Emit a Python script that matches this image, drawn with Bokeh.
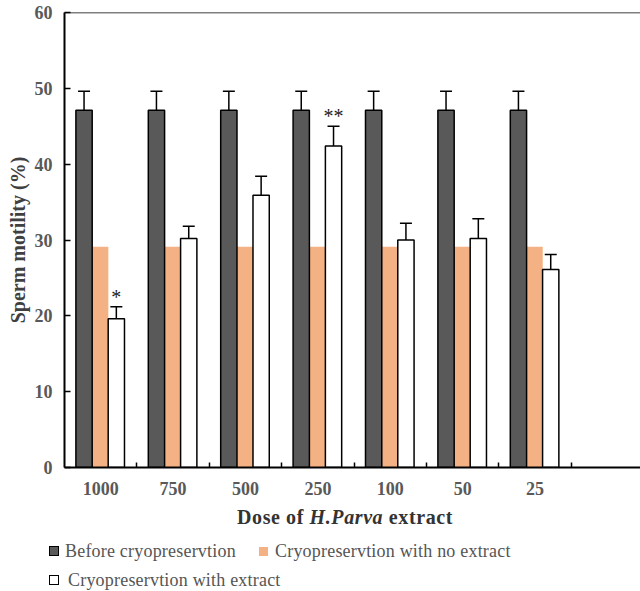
import numpy as np
from bokeh.plotting import figure
from bokeh.models import Range1d, FixedTicker, Whisker, TeeHead, ColumnDataSource, Span, Div
from bokeh.layouts import column
from bokeh.core.properties import value
from bokeh.embed import file_html
from bokeh.resources import INLINE

# ---- data ----
doses = ["1000", "750", "500", "250", "100", "50", "25"]
before = [47.1, 47.1, 47.1, 47.1, 47.1, 47.1, 47.1]
before_err = [2.5, 2.5, 2.5, 2.5, 2.5, 2.5, 2.5]
no_extract = [29.1, 29.1, 29.1, 29.1, 29.1, 29.1, 29.1]
with_extract = [19.6, 30.2, 35.9, 42.4, 30.0, 30.2, 26.1]
with_err = [1.6, 1.6, 2.5, 2.6, 2.2, 2.6, 2.0]
sig = ["*", "", "", "**", "", "", ""]
y_ticks = [0, 10, 20, 30, 40, 50, 60]
legend_labels = ["Before cryopreservtion", "Cryopreservtion with no extract",
                 "Cryopreservtion with extract"]

DARK = "#595959"
ORANGE = "#F4B183"
FONT = "Liberation Serif"

W = 640
XMAX = 7.956
YMAX = 60

slot = np.arange(len(doses))
bw = 0.225
src = ColumnDataSource(dict(
    xd=slot + 0.27, xo=slot + 0.493, xw=slot + 0.716,
    before=before, before_hi=np.array(before) + np.array(before_err),
    no_extract=no_extract,
    with_extract=with_extract,
    with_hi=np.array(with_extract) + np.array(with_err),
    sig=sig,
))

p = figure(width=W, height=507, x_range=Range1d(0, XMAX), y_range=Range1d(0, YMAX),
           output_backend="svg", toolbar_location=None,
           min_border_top=12, min_border_left=64, min_border_right=0, min_border_bottom=40)
p.xgrid.visible = False
p.ygrid.visible = False
p.outline_line_color = None

p.vbar(x="xo", top="no_extract", width=bw, source=src, fill_color=ORANGE, line_color=None)
p.vbar(x="xd", top="before", width=bw, source=src, fill_color=DARK, line_color="black", line_width=1.5)
p.vbar(x="xw", top="with_extract", width=bw, source=src, fill_color="white", line_color="black", line_width=1.5)

for base, lo, hi in (("xd", "before", "before_hi"), ("xw", "with_extract", "with_hi")):
    w = Whisker(source=src, base=base, lower=lo, upper=hi, dimension="height",
                line_color="black", line_width=1.5,
                upper_head=TeeHead(size=12, line_width=1.5, line_color="black"), lower_head=None)
    p.add_layout(w)

p.text(x="xw", y="with_hi", text="sig", source=src, text_align="center", text_baseline="alphabetic",
       y_offset=-10, text_font=value(FONT), text_font_size="20px", text_color="#222222")

p.add_layout(Span(location=YMAX, dimension="width", line_color="black", line_width=1.5))

# y axis
p.yaxis.ticker = FixedTicker(ticks=y_ticks)
p.yaxis.axis_label = "Sperm motility (%)"
p.yaxis.axis_label_text_font = FONT
p.yaxis.axis_label_text_font_style = "bold"
p.yaxis.axis_label_text_font_size = "20px"
p.yaxis.axis_label_text_color = "#404040"
p.yaxis.axis_label_standoff = 3
p.yaxis.major_label_text_font = FONT
p.yaxis.major_label_text_font_style = "bold"
p.yaxis.major_label_text_font_size = "18px"
p.yaxis.major_label_text_color = "#595959"
p.yaxis.major_label_standoff = 12
p.yaxis.major_tick_in = 6
p.yaxis.major_tick_out = 0
p.yaxis.minor_tick_line_color = None

# x axis
p.xaxis.ticker = FixedTicker(ticks=list(slot + 0.5), minor_ticks=list(range(1, len(doses) + 1)))
p.xaxis.major_label_overrides = {float(s + 0.5): d for s, d in zip(slot, doses)}
p.xaxis.major_label_text_font = FONT
p.xaxis.major_label_text_font_style = "bold"
p.xaxis.major_label_text_font_size = "18px"
p.xaxis.major_label_text_color = "#595959"
p.xaxis.major_label_standoff = 14
p.xaxis.major_tick_in = 0
p.xaxis.major_tick_out = 0
p.xaxis.minor_tick_in = 5
p.xaxis.minor_tick_out = 0
p.xaxis.minor_tick_line_width = 1.5
for ax in (p.xaxis, p.yaxis):
    ax.axis_line_width = 2
    ax.axis_line_color = "black"
    ax.major_tick_line_width = 1.5

# ---- x label (mixed styles) + legend as HTML below the plot ----
def box(left, top, size, fill, border):
    b = f"border:1.5px solid {border};" if border else ""
    return (f'<div style="position:absolute;left:{left}px;top:{top}px;width:{size}px;height:{size}px;'
            f'box-sizing:border-box;background:{fill};{b}"></div>')


def txt(left, top, size, color, inner, extra=""):
    return (f'<div style="position:absolute;left:{left}px;top:{top}px;white-space:nowrap;'
            f'font-family:\'{FONT}\';font-size:{size}px;line-height:{size}px;color:{color};{extra}">{inner}</div>')


html = (
    f'<div style="position:relative;width:{W}px;height:84px;margin:0;padding:0;">'
    + txt(237, 0, 20, "#333333", "Dose of <i>H.Parva</i> extract", "font-weight:bold;letter-spacing:0.6px;")
    + box(48.5, 39, 10, DARK, "black")
    + txt(65, 34.5, 18, "#555555", legend_labels[0], "letter-spacing:0.2px;")
    + box(258.5, 39.5, 9, ORANGE, None)
    + txt(275, 34.5, 18, "#555555", legend_labels[1], "letter-spacing:0.2px;")
    + box(48.5, 68, 10, "white", "black")
    + txt(68, 64, 18, "#555555", legend_labels[2], "letter-spacing:0.2px;")
    + '</div>'
)
d = Div(text=html, width=W, height=84, margin=0)

layout = column(p, d, spacing=0)
open("out.html", "w").write(file_html(layout, INLINE))
